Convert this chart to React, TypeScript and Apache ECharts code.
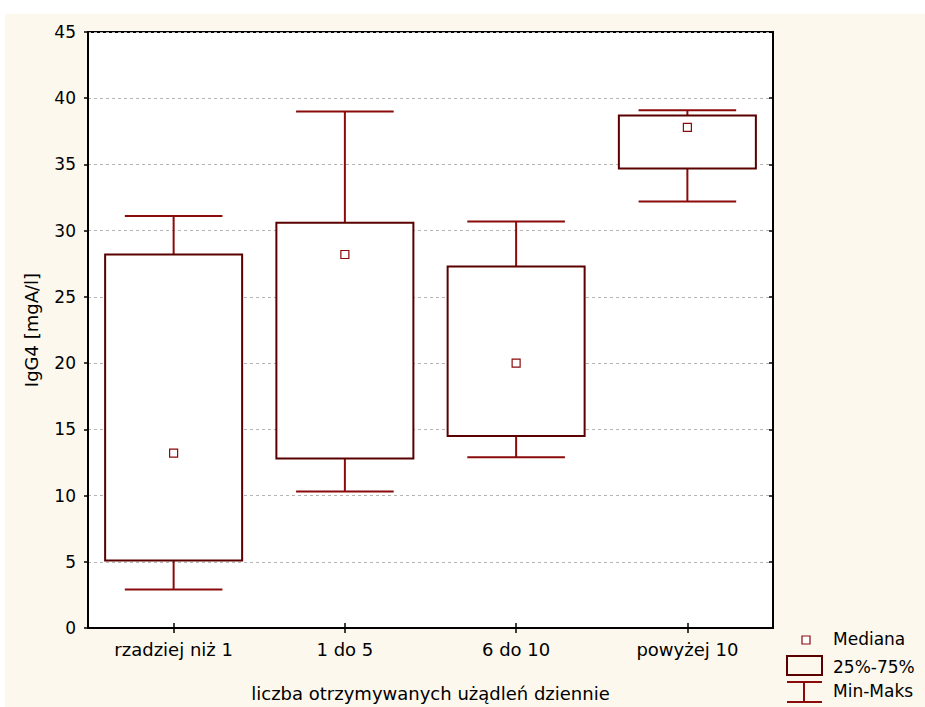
import React, { useEffect, useRef } from "react";
import * as echarts from "echarts";

// Groups by number of stings received per day
const categories = ["rzadziej niż 1", "1 do 5", "6 do 10", "powyżej 10"];
// IgG4 [mgA/l] summary per group
const minValues = [2.9, 10.3, 12.9, 32.2];
const q1Values = [5.1, 12.8, 14.5, 34.7];
const medianValues = [13.2, 28.2, 20.0, 37.8];
const q3Values = [28.2, 30.6, 27.3, 38.7];
const maxValues = [31.1, 39.0, 30.7, 39.1];
const yTicks = [0, 5, 10, 15, 20, 25, 30, 35, 40, 45];

const WHISKER = "#8b0a0a";
const BOX = "#5a0000";
const FONT = "DejaVu Sans, Verdana, sans-serif";

export default function App() {
  const ref = useRef<HTMLDivElement>(null);

  useEffect(() => {
    document.body.style.margin = "0";
    const chart = echarts.init(ref.current!, null, { renderer: "svg" });

    const data = categories.map((_, i) => [
      i,
      minValues[i],
      q1Values[i],
      medianValues[i],
      q3Values[i],
      maxValues[i],
    ]);

    const renderItem = (params: any, api: any) => {
      const idx = api.value(0);
      const band = api.size([1, 0])[0];
      const pMin = api.coord([idx, api.value(1)]);
      const pQ1 = api.coord([idx, api.value(2)]);
      const pMed = api.coord([idx, api.value(3)]);
      const pQ3 = api.coord([idx, api.value(4)]);
      const pMax = api.coord([idx, api.value(5)]);
      const cx = pMin[0];
      const boxW = band * 0.8;
      const capW = band * 0.57;
      const wStyle = { stroke: WHISKER, lineWidth: 2, fill: "none" };
      return {
        type: "group",
        children: [
          { type: "line", shape: { x1: cx, y1: pMax[1], x2: cx, y2: pQ3[1] }, style: wStyle },
          { type: "line", shape: { x1: cx, y1: pQ1[1], x2: cx, y2: pMin[1] }, style: wStyle },
          { type: "line", shape: { x1: cx - capW / 2, y1: pMax[1], x2: cx + capW / 2, y2: pMax[1] }, style: wStyle },
          { type: "line", shape: { x1: cx - capW / 2, y1: pMin[1], x2: cx + capW / 2, y2: pMin[1] }, style: wStyle },
          {
            type: "rect",
            shape: { x: cx - boxW / 2, y: pQ3[1], width: boxW, height: pQ1[1] - pQ3[1] },
            style: { fill: "#ffffff", stroke: BOX, lineWidth: 2 },
          },
          {
            type: "rect",
            shape: { x: cx - 4, y: pMed[1] - 4, width: 8, height: 8 },
            style: { fill: "#ffffff", stroke: WHISKER, lineWidth: 1.2 },
          },
        ],
      };
    };

    const textStyle = { fill: "#000", font: `17px ${FONT}`, verticalAlign: "middle" };

    chart.setOption({
      animation: false,
      backgroundColor: "#ffffff",
      textStyle: { fontFamily: FONT },
      grid: {
        left: 88,
        right: 152,
        top: 32,
        bottom: 76,
        show: true,
        backgroundColor: "#ffffff",
        borderColor: "#000",
        borderWidth: 2,
        z: 0,
      },
      graphic: [
        {
          type: "rect",
          z: -10,
          silent: true,
          shape: { x: 5, y: 14, width: 925, height: 707 },
          style: { fill: "#fdf8ed" },
        },
        {
          type: "rect",
          shape: { x: 802, y: 636, width: 8, height: 8 },
          style: { fill: "#ffffff", stroke: WHISKER, lineWidth: 1.2 },
        },
        { type: "text", x: 833, y: 639, style: { ...textStyle, text: "Mediana" } },
        {
          type: "rect",
          shape: { x: 787, y: 656, width: 35, height: 19 },
          style: { fill: "#fdf8ed", stroke: BOX, lineWidth: 2 },
        },
        { type: "text", x: 833, y: 667, style: { ...textStyle, text: "25%-75%" } },
        { type: "line", shape: { x1: 787, y1: 682, x2: 822, y2: 682 }, style: { stroke: WHISKER, lineWidth: 2 } },
        { type: "line", shape: { x1: 804, y1: 682, x2: 804, y2: 702 }, style: { stroke: WHISKER, lineWidth: 2 } },
        { type: "line", shape: { x1: 787, y1: 702, x2: 822, y2: 702 }, style: { stroke: WHISKER, lineWidth: 2 } },
        { type: "text", x: 833, y: 691, style: { ...textStyle, text: "Min-Maks" } },
      ],
      xAxis: [
        {
          type: "category",
          data: categories,
          position: "bottom",
          z: 2,
          name: "liczba otrzymywanych użądleń dziennie",
          nameLocation: "middle",
          nameGap: 56,
          nameTextStyle: { fontSize: 18, color: "#000", fontFamily: FONT },
          axisLine: { show: true, lineStyle: { color: "#000", width: 2 } },
          axisTick: { show: true, inside: true, alignWithLabel: true, length: 5, lineStyle: { color: "#000", width: 1.5 } },
          axisLabel: { fontSize: 18, color: "#000", margin: 12, fontFamily: FONT },
          splitLine: { show: false },
        },
        {
          type: "category",
          data: categories,
          position: "top",
          z: 2,
          axisLine: { show: true, lineStyle: { color: "#000", width: 2 } },
          axisTick: { show: true, inside: true, alignWithLabel: true, length: 5, lineStyle: { color: "#000", width: 1.5 } },
          axisLabel: { show: false },
          splitLine: { show: false },
        },
      ],
      yAxis: [
        {
          type: "value",
          min: yTicks[0],
          max: yTicks[yTicks.length - 1],
          interval: 5,
          position: "left",
          z: 2,
          name: "IgG4 [mgA/l]",
          nameLocation: "middle",
          nameGap: 48,
          nameTextStyle: { fontSize: 18, color: "#000", fontFamily: FONT },
          axisLine: { show: true, lineStyle: { color: "#000", width: 2 } },
          axisTick: { show: true, inside: false, length: 4, lineStyle: { color: "#000", width: 1.5 } },
          axisLabel: { fontSize: 17, color: "#000", margin: 12, fontFamily: FONT },
          splitLine: { show: true, lineStyle: { color: "#b4b4b4", type: [3, 3], width: 1 } },
        },
        {
          type: "value",
          min: yTicks[0],
          max: yTicks[yTicks.length - 1],
          interval: 5,
          position: "right",
          z: 2,
          axisLine: { show: true, lineStyle: { color: "#000", width: 2 } },
          axisTick: { show: true, inside: true, length: 4, lineStyle: { color: "#000", width: 1.5 } },
          axisLabel: { show: false },
          splitLine: { show: false },
        },
      ],
      series: [
        {
          type: "custom",
          xAxisIndex: 0,
          yAxisIndex: 0,
          renderItem,
          data,
          z: 5,
        },
      ],
    });

    return () => chart.dispose();
  }, []);

  return (
    <div
      ref={ref}
      style={{ position: "absolute", left: 0, top: 0, width: 925, height: 707 }}
    />
  );
}
